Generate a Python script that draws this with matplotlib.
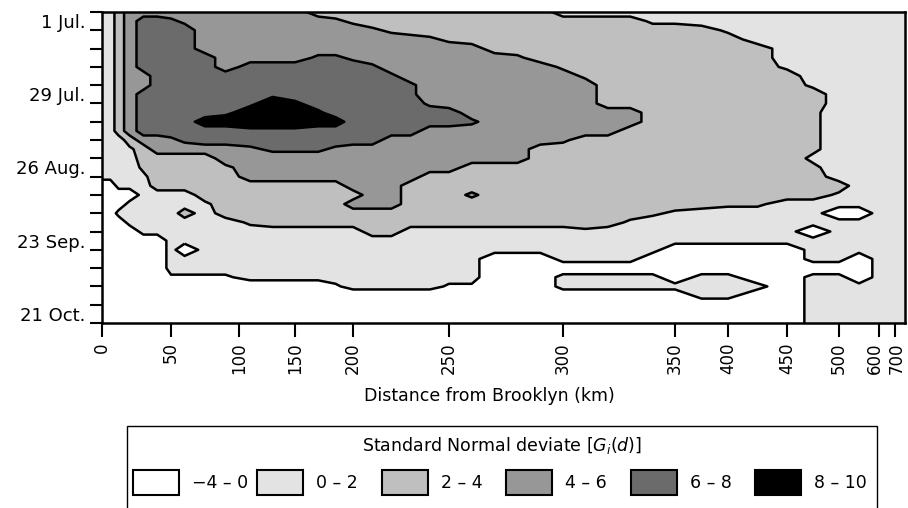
import matplotlib
matplotlib.use("Agg")
import matplotlib.pyplot as plt
from matplotlib.patches import Rectangle
from matplotlib.transforms import ScaledTranslation
import numpy as np

plt.rcParams["font.family"] = ["DejaVu Sans"]
plt.rcParams["mathtext.fontset"] = "dejavusans"

# distance classes (km) used as grid columns
dist_km = [0, 6, 12, 20, 30, 40, 50, 60, 75, 90, 110, 130, 150, 170, 185,
           200, 210, 220, 230, 240, 250, 260, 270, 280, 290, 300, 310, 320,
           330, 340, 350, 375, 400, 425, 450, 475, 500, 550, 600, 700, 760]

# weeks after 1 July used as grid rows
week = [-0.5, 0, 0.5, 1, 1.5, 2, 2.5, 3, 3.5, 4, 4.5, 5, 5.5, 6, 6.5, 7,
        7.5, 8, 8.5, 9, 9.5, 10, 10.5, 11, 11.5, 12, 12.5, 13, 13.5, 14,
        14.5, 15, 15.5, 16, 16.5]

# G_i(d) per cell. Digits give the class (0 = -4..0, 1 = 0..2, 2 = 2..4,
# 3 = 4..6, 4 = 6..8, 5 = 8..10); letters are cells lying close to a class limit.
gi_grid = [
    "11 2 3333333333 222222222222 1111111111111111",
    "11 2 3 44 h g 333333 f e 2222222222222 cc 1111111111",
    "11 2 3 4444 33333333 f e 22222222222222 c 11111111",
    "11 2 3 4444 33333333333 f e 222222222222 11111111",
    "11 2 3 4444 33333333333333 222222222222 1111111",
    "11 2 3 44444 3333 hh g 3333333 f 2222222222 1111111",
    "11 2 3 44444 3 444444 h 33333333 e 22222222 c 111111",
    "11 2 3 3 444444444444 h 33333333 e 22222222 111111",
    "11 2 3 3 4444444444444 h 33333333 22222222 c 11111",
    "11 2 3 4444444 i 444444 h 33333333 222222222 11111",
    "11 2 3 444444 i 5 j 444444 g 3333333 222222222 11111",
    "11 2 3 44444 i 555 j 4444444 33333333 222222 d 11111",
    "11 2 3 4444 5555555 444444 h 3333333 222222 d 11111",
    "11 2 3 444444 iii 444444 333333333 2222222 d 11111",
    "111 2 33 g h 444444444 33333333 f 222222222 d 11111",
    "111 c 2 33333 g hhh g 333333333 22222222222 d 11111",
    "1111 22222 333333333333333 22222222222 c 11111",
    "1111 d 2222 e 33333333333 22222222222222 d 11111",
    "1111 c 22222 333333333 22222222222222222 11111",
    "00 111 2222222222 333 2222222222222222222 1111",
    "0000 1111 22222222 33 222 f 22222222222222 c 1111",
    "000 11111 c 222222 333 22222222222222 dd 1111111",
    "00 11111 2 1 22222222222222222222 d c 11111 00 111",
    "000 1111111 d 22222222222222222 c 111111111111",
    "0000 111111111111 22 11111111 c 11111111 0 11111",
    "000000 11111111111111111111111111111111111",
    "000000 1 0 1111111111111111111111 00000 111111",
    "000000 1111111111111111 000 1111 000000 11 0 111",
    "000000 1111111111111111 0000000000000000 111",
    "000000 aaaa 111111111111 000 11111 0 11 00 11 0 111",
    "00000000000000 a 11111 aa 000 111111111 0 111111",
    "0000000000000000000000000000000 11 00 111111",
    "00000000000000000000000000000000000 111111",
    "00000000000000000000000000000000000 111111",
    "00000000000000000000000000000000000 111111",
]
cell_value = {"0": -2.0, "1": 1.0, "2": 3.0, "3": 5.0, "4": 7.0, "5": 9.0,
              "a": -0.4, "b": 0.4, "c": 1.6, "d": 2.4, "e": 3.6,
              "f": 4.4, "g": 5.6, "h": 6.4, "i": 7.6, "j": 8.4}

band_levels = [-4, 0, 2, 4, 6, 8, 10]
band_labels = ["\u22124 \u2013 0", "0 \u2013 2", "2 \u2013 4",
               "4 \u2013 6", "6 \u2013 8", "8 \u2013 10"]
band_colors = ["#ffffff", "#e3e3e3", "#bfbfbf", "#979797", "#6b6b6b", "#000000"]

dist_ticks = [0, 50, 100, 150, 200, 250, 300, 350, 400, 450, 500, 600, 700]
date_ticks = [0, 4, 8, 12, 16]
date_labels = ["1 Jul.", "29 Jul.", "26 Aug.", "23 Sep.", "21 Oct."]

# distance classes are unequal: piecewise-linear axis between class marks
axis_km = [0, 50, 100, 150, 200, 250, 300, 350, 400, 450, 500, 600, 700, 760]
axis_pos = [0, 0.0859, 0.1706, 0.2403, 0.3126, 0.4321, 0.5741, 0.7136,
            0.7796, 0.8531, 0.9178, 0.9676, 0.9875, 1.0]


def fwd(x):
    return np.interp(x, axis_km, axis_pos)


def inv(p):
    return np.interp(p, axis_pos, axis_km)


z = np.array([[cell_value[c] for c in row.replace(" ", "")]
              for row in gi_grid])
X, Y = np.meshgrid(dist_km, week)

W, H = 908, 508
fig = plt.figure(figsize=(W / 100, H / 100), dpi=100)
ax = fig.add_axes([102 / W, 1 - 323 / H, 803 / W, 311 / H])
ax.set_xscale("function", functions=(fwd, inv))

ax.contourf(X, Y, z, levels=band_levels, colors=band_colors, antialiased=False)
ax.contour(X, Y, z, levels=band_levels[1:-1], colors="k", linewidths=1.8)

ax.set_xlim(0, 760)
ax.set_ylim(16.5, -0.5)

ax.set_xticks(dist_ticks)
ax.set_xticklabels([str(d) for d in dist_ticks], rotation=90)
ax.xaxis.set_minor_locator(matplotlib.ticker.NullLocator())
ax.tick_params(axis="x", which="major", direction="out", length=10,
               width=1.5, pad=4, labelsize=12)
# the last two classes sit close together: spread their labels a little
xl = ax.get_xticklabels()
xl[-2].set_transform(xl[-2].get_transform()
                     + ScaledTranslation(-0.04, 0, fig.dpi_scale_trans))
xl[-1].set_transform(xl[-1].get_transform()
                     + ScaledTranslation(0.02, 0, fig.dpi_scale_trans))

ax.set_yticks(date_ticks)
ax.set_yticklabels(date_labels)
ax.set_yticks(np.arange(-0.5, 17, 1.0), minor=True)
ax.tick_params(axis="y", which="major", length=0, pad=12, labelsize=13)
ax.tick_params(axis="y", which="minor", direction="out", length=9, width=1.5)

for s in ax.spines.values():
    s.set_linewidth(1.8)

ax.set_xlabel("Distance from Brooklyn (km)", fontsize=12.5)
ax.xaxis.set_label_coords((489 - 102) / 803, -(387 - 323) / 311)

# legend drawn in pixel coordinates below the plot
lax = fig.add_axes([0, 0, 1, 1], facecolor="none")
lax.set_xlim(0, W)
lax.set_ylim(H, 0)
lax.axis("off")
lax.add_patch(Rectangle((127, 426), 750, 90, facecolor="white",
                        edgecolor="k", linewidth=1.0))
lax.text(502, 446, r"Standard Normal deviate [$G_i(d)$]", ha="center",
         va="center", fontsize=12.5)
for i, (lab, col) in enumerate(zip(band_labels, band_colors)):
    x0 = 133 + i * 124.4
    lax.add_patch(Rectangle((x0, 470), 46, 25, facecolor=col,
                            edgecolor="k", linewidth=1.5))
    lax.text(x0 + 59, 483, lab, ha="left", va="center", fontsize=12.5)

fig.savefig("out.png", dpi=100)
